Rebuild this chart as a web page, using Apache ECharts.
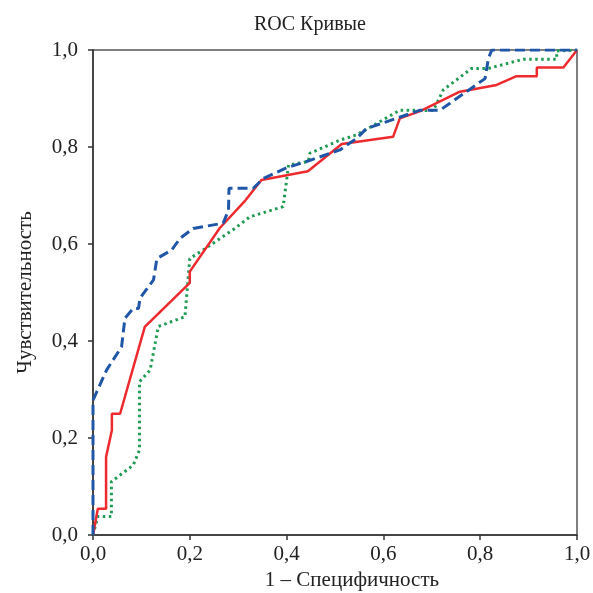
<!DOCTYPE html>
<html><head><meta charset="utf-8">
<script src="https://cdn.jsdelivr.net/npm/echarts@6/dist/echarts.min.js"></script>
<style>html,body{margin:0;padding:0;background:#fff}#c{width:593px;height:593px}</style>
</head><body><div id="c"></div>
<script>
var titleText = "ROC Кривые";
var xName = "1 – Специфичность";
var yName = "Чувствительность";
var tickLabels = ["0,0","0,2","0,4","0,6","0,8","1,0"];

var redX = [0, 0.01, 0.027, 0.027, 0.039, 0.039, 0.056, 0.107, 0.2, 0.2, 0.262, 0.315, 0.348, 0.444, 0.514, 0.62, 0.634, 0.676, 0.758, 0.834, 0.875, 0.917, 0.917, 0.972, 1.0];
var redY = [0, 0.054, 0.054, 0.161, 0.216, 0.25, 0.25, 0.429, 0.52, 0.543, 0.633, 0.69, 0.732, 0.75, 0.806, 0.821, 0.859, 0.874, 0.914, 0.928, 0.946, 0.946, 0.964, 0.964, 1.0];

var blueX = [0, 0, 0.028, 0.059, 0.066, 0.083, 0.094, 0.097, 0.125, 0.132, 0.163, 0.18, 0.207, 0.269, 0.28, 0.281, 0.331, 0.352, 0.4, 0.441, 0.51, 0.545, 0.565, 0.627, 0.676, 0.717, 0.81, 0.817, 0.824, 1.0];
var blueY = [0, 0.278, 0.34, 0.388, 0.447, 0.467, 0.467, 0.488, 0.526, 0.57, 0.588, 0.612, 0.632, 0.643, 0.67, 0.715, 0.715, 0.735, 0.757, 0.77, 0.794, 0.818, 0.838, 0.859, 0.876, 0.876, 0.941, 0.983, 1.0, 1.0];

var greenX = [0, 0.01, 0.038, 0.038, 0.083, 0.096, 0.096, 0.118, 0.135, 0.19, 0.2, 0.228, 0.293, 0.324, 0.393, 0.404, 0.445, 0.448, 0.51, 0.545, 0.634, 0.703, 0.724, 0.782, 0.817, 0.889, 0.958, 0.958, 1.0];
var greenY = [0, 0.038, 0.038, 0.11, 0.144, 0.175, 0.316, 0.34, 0.43, 0.45, 0.57, 0.588, 0.632, 0.656, 0.677, 0.763, 0.77, 0.787, 0.814, 0.825, 0.876, 0.875, 0.918, 0.962, 0.962, 0.981, 0.981, 0.998, 1.0];

function pairs(xs, ys){ return xs.map(function(x,i){ return [x, ys[i]]; }); }
var serif = "Liberation Serif";
var chart = echarts.init(document.getElementById('c'), null, {renderer:'canvas'});
var axisStyle = {lineStyle:{color:'#333', width:1.5}};
chart.setOption({
  animation:false,
  backgroundColor:'#fff',
  title:{text:titleText, left:249, top:10, textStyle:{fontFamily:serif, fontSize:20, fontWeight:'normal', color:'#222'}},
  grid:{left:93, right:16, top:50, bottom:58, show:true, borderColor:'#555', borderWidth:1.5, containLabel:false, outerBoundsMode:'none'},
  xAxis:{type:'value', min:0, max:1, interval:0.2,
    name:xName, nameLocation:'middle', nameGap:34,
    nameTextStyle:{fontFamily:serif, fontSize:21, color:'#222', padding:[0,0,0,34]},
    axisLine:axisStyle, axisTick:{show:true, length:5, lineStyle:{color:'#333', width:1.5}},
    splitLine:{show:false},
    axisLabel:{fontFamily:serif, fontSize:21, color:'#222', margin:9,
      formatter:function(v){ return tickLabels[Math.round(v*5)]; }}},
  yAxis:{type:'value', min:0, max:1, interval:0.2,
    name:yName, nameLocation:'middle', nameGap:57,
    nameTextStyle:{fontFamily:serif, fontSize:21, color:'#222'},
    axisLine:axisStyle, axisTick:{show:true, length:5, lineStyle:{color:'#333', width:1.5}},
    splitLine:{show:false},
    axisLabel:{fontFamily:serif, fontSize:21, color:'#222', margin:15,
      formatter:function(v){ return tickLabels[Math.round(v*5)]; }}},
  series:[
    {type:'line', data:pairs(greenX, greenY), symbol:'none', z:2,
      lineStyle:{color:'#1f9a52', width:3, type:[2.5,3.5]}},
    {type:'line', data:pairs(redX, redY), symbol:'none', z:3,
      lineStyle:{color:'#ee2a2e', width:2.5}},
    {type:'line', data:pairs(blueX, blueY), symbol:'none', z:4,
      lineStyle:{color:'#2056a8', width:3, type:[10,5]}}
  ]
});
</script></body></html>
